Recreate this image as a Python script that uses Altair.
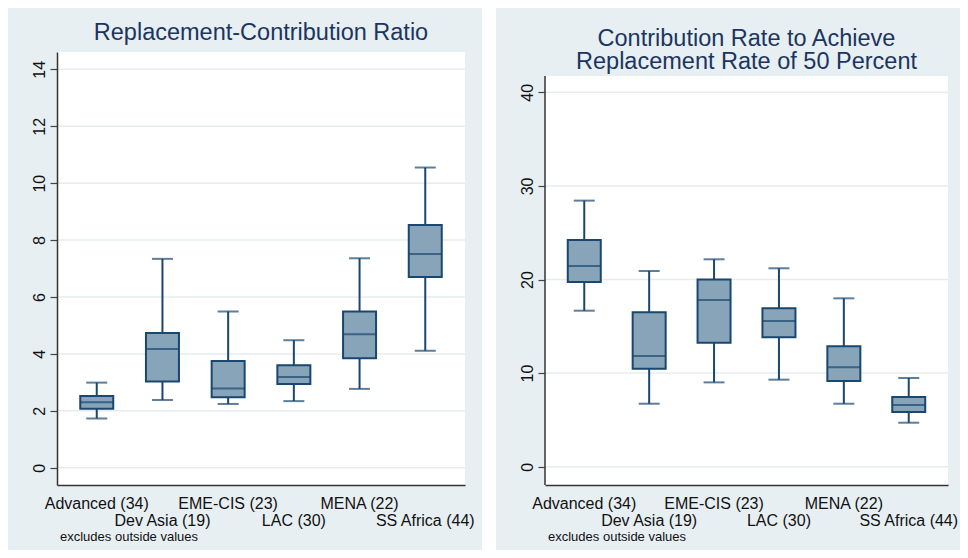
import altair as alt
import pandas as pd

regions = ["Advanced (34)", "Dev Asia (19)", "EME-CIS (23)", "LAC (30)", "MENA (22)", "SS Africa (44)"]
second_row = ["Dev Asia (19)", "LAC (30)", "SS Africa (44)"]

# Replacement-Contribution Ratio
rc_lower = [1.73, 2.38, 2.24, 2.34, 2.77, 4.11]
rc_q1 = [2.07, 3.03, 2.48, 2.94, 3.85, 6.70]
rc_median = [2.30, 4.17, 2.78, 3.19, 4.69, 7.51]
rc_q3 = [2.52, 4.73, 3.75, 3.60, 5.49, 8.53]
rc_upper = [2.99, 7.34, 5.49, 4.48, 7.36, 10.55]
rc_ticks = [0, 2, 4, 6, 8, 10, 12, 14]

# Contribution Rate to Achieve Replacement Rate of 50 Percent
cr_lower = [16.67, 6.73, 9.01, 9.30, 6.73, 4.70]
cr_q1 = [19.74, 10.47, 13.25, 13.82, 9.16, 5.84]
cr_median = [21.45, 11.83, 17.81, 15.57, 10.62, 6.59]
cr_q3 = [24.22, 16.49, 19.99, 16.92, 12.86, 7.45]
cr_upper = [28.43, 20.91, 22.16, 21.20, 17.99, 9.48]
cr_ticks = [0, 10, 20, 30, 40]

left_title = ["Replacement-Contribution Ratio"]
right_title = ["Contribution Rate to Achieve", "Replacement Rate of 50 Percent"]
note = "excludes outside values"

BG = "#e7eff3"
GRID = "#e6edf1"
NAVY = "#1a476f"
FILL = "#87a4b9"
TITLE = "#1b3560"
FONT = "Liberation Sans"

H = 433


def panel(lower, q1, med, q3, upper, ticks, domain, width, white_top, bg_right, titles, title_ys):
    df = pd.DataFrame({"region": regions, "lower": lower, "q1": q1,
                       "median": med, "q3": q3, "upper": upper})
    grid_df = pd.DataFrame({"v": ticks})
    one = pd.DataFrame({"a": [0]})

    label_expr = ("indexof(" + str(second_row).replace("'", "\"") +
                  ", datum.value) >= 0 ? ['', datum.label] : datum.label")
    xenc = alt.X("region:N", sort=regions,
                 scale=alt.Scale(domain=regions, paddingInner=0, paddingOuter=0.105),
                 axis=alt.Axis(title=None, ticks=False, tickSize=0, domain=True,
                               domainColor="#333333", domainWidth=1.5,
                               labelAngle=0, labelFontSize=16, labelFont=FONT,
                               labelColor="#111111", labelPadding=10,
                               labelBaseline="top", labelLineHeight=17,
                               labelExpr=label_expr, labelOverlap=False,
                               labelBound=False, labelLimit=0, zindex=1))
    yscale = alt.Scale(domain=domain, nice=False, zero=False)
    yaxis = alt.Axis(values=ticks, grid=False, domain=(white_top == 0),
                     domainColor="#333333", domainWidth=1.5,
                     tickSize=7, tickColor="#444444", tickWidth=1.2,
                     labelAngle=270, labelAlign="center",
                     labelBaseline="bottom", labelPadding=3,
                     labelFontSize=16, labelFont=FONT,
                     labelColor="#111111", zindex=1, title=None)

    def yenc(field):
        return alt.Y(field + ":Q", scale=yscale, axis=yaxis, title=None)

    bg = alt.Chart(one).mark_rect(color=BG).encode(
        x=alt.value(-49), x2=alt.value(width + bg_right),
        y=alt.value(-44), y2=alt.value(H + 65))
    white = alt.Chart(one).mark_rect(color="white").encode(
        x=alt.value(0), x2=alt.value(width),
        y=alt.value(white_top), y2=alt.value(H))
    grid = alt.Chart(grid_df).mark_rule(color=GRID, strokeWidth=1.5).encode(
        y=yenc("v"), x=alt.value(0), x2=alt.value(width))

    base = alt.Chart(df)
    whisk_lo = base.mark_rule(color=NAVY, strokeWidth=2).encode(
        x=xenc, y=yenc("lower"), y2="q1:Q")
    whisk_hi = base.mark_rule(color=NAVY, strokeWidth=2).encode(
        x=xenc, y=yenc("q3"), y2="upper:Q")
    box = base.mark_bar(size=33, fill=FILL, stroke=NAVY, strokeWidth=2).encode(
        x=xenc, y=yenc("q1"), y2="q3:Q")
    median = base.mark_tick(size=33, thickness=2, color=NAVY).encode(
        x=xenc, y=yenc("median"))
    cap_lo = base.mark_tick(size=21, thickness=2, color=NAVY).encode(
        x=xenc, y=yenc("lower"))
    cap_hi = base.mark_tick(size=21, thickness=2, color=NAVY).encode(
        x=xenc, y=yenc("upper"))

    layers = [bg, white, grid, whisk_lo, whisk_hi, box, median, cap_lo, cap_hi]
    if white_top > 0:
        layers.append(alt.Chart(one).mark_rule(color="#333333", strokeWidth=1.5).encode(
            x=alt.value(0), y=alt.value(white_top), y2=alt.value(H)))
    for t, ty in zip(titles, title_ys):
        layers.append(alt.Chart(one).mark_text(
            font=FONT, fontSize=23.5, color=TITLE, align="center",
            baseline="alphabetic").encode(
            x=alt.value(width / 2), y=alt.value(ty), text=alt.value(t)))
    layers.append(alt.Chart(one).mark_text(
        font=FONT, fontSize=13, color="#111111", align="left",
        baseline="alphabetic").encode(
        x=alt.value(3), y=alt.value(489), text=alt.value(note)))

    return alt.layer(*layers).properties(width=width, height=H)


left = panel(rc_lower, rc_q1, rc_median, rc_q3, rc_upper, rc_ticks,
             [-0.608, 14.61], 408, 0, 17, left_title, [-12])
right = panel(cr_lower, cr_q1, cr_median, cr_q3, cr_upper, cr_ticks,
              [-1.955, 44.31], 403, 24, 12, right_title, [-6, 17])

chart = alt.hconcat(left, right, spacing=14).properties(
    padding=0, background="white"
).configure_view(stroke=None)

chart.save("out.html", embed_options={"renderer": "svg", "actions": False})
